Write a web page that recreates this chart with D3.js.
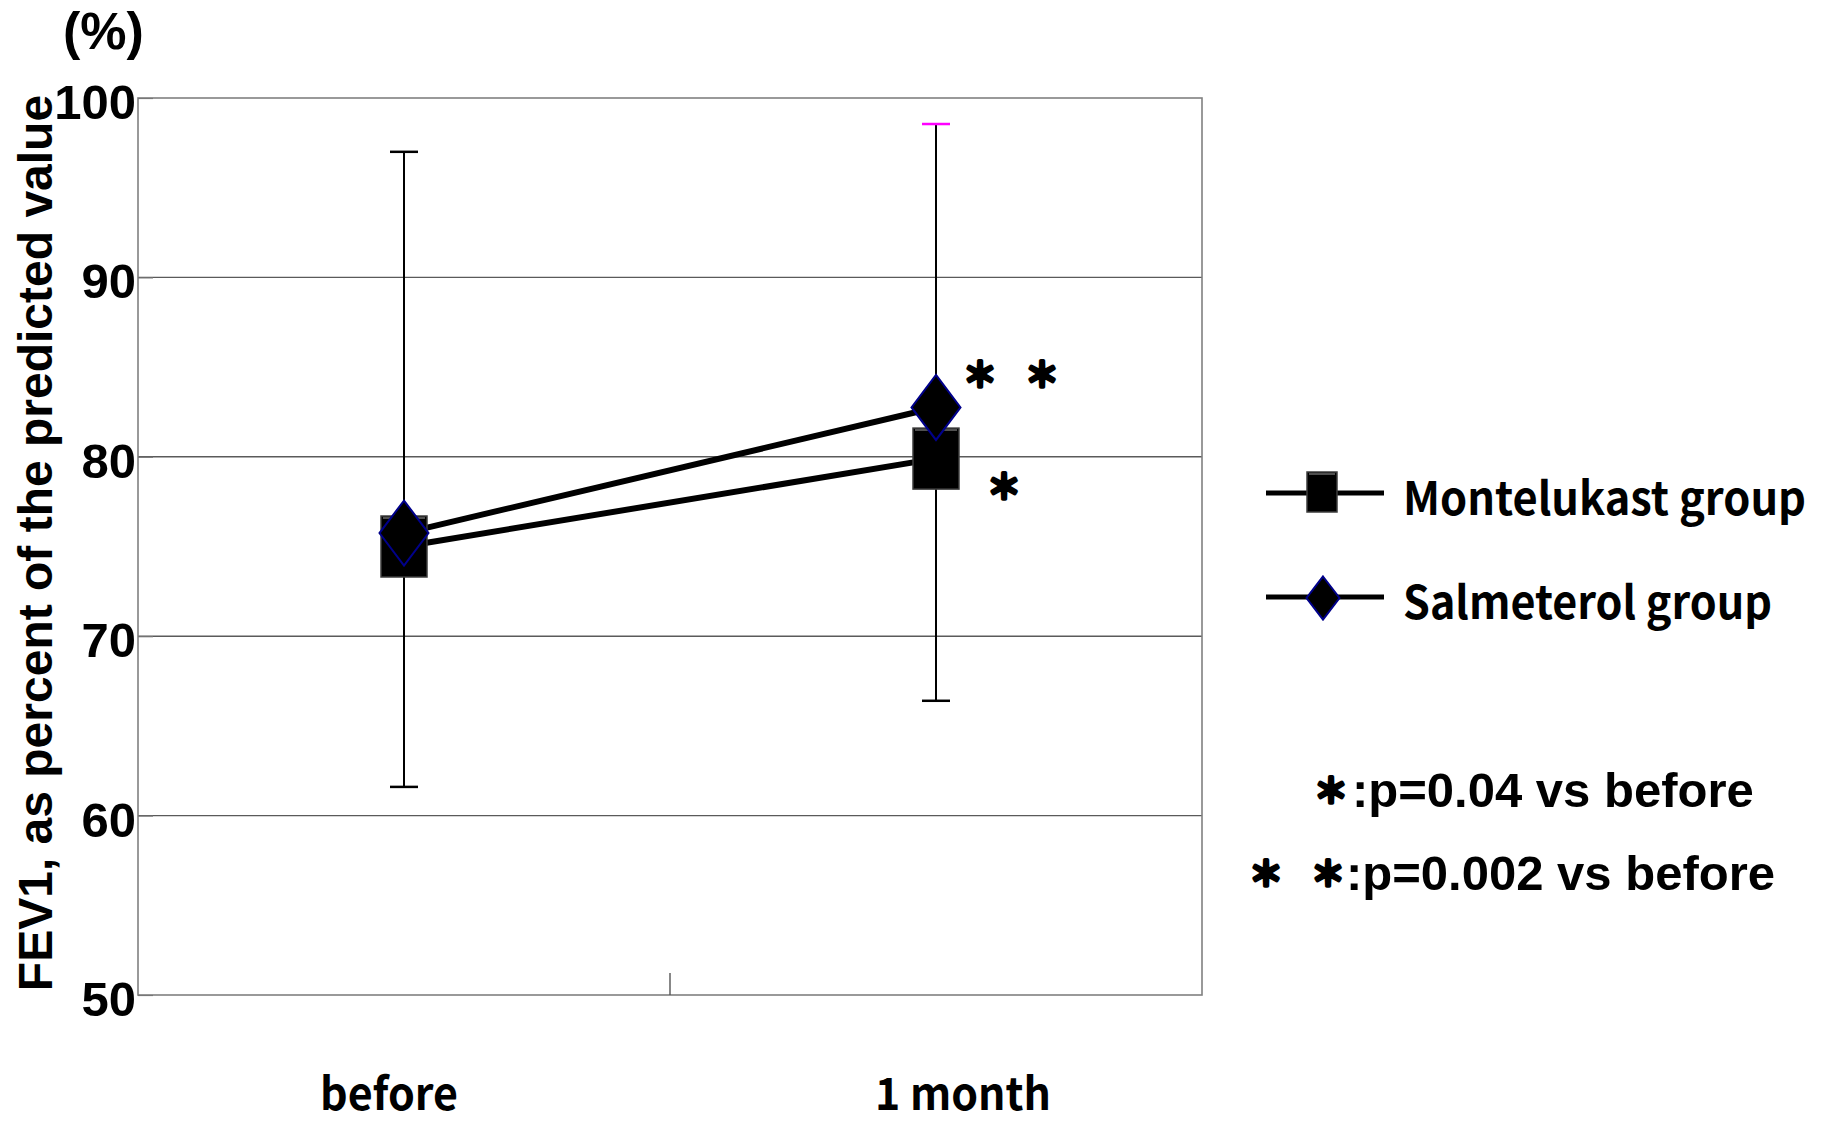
<!DOCTYPE html>
<html>
<head>
<meta charset="utf-8">
<script src="https://cdn.jsdelivr.net/npm/d3@7/dist/d3.min.js"></script>
<style>
    body { margin: 0; background: #fff; }
    svg { display: block; }
    .latin { font-family: "Liberation Sans", Arial, sans-serif; font-weight: bold; }
    .gothic { font-family: "Noto Sans CJK JP", sans-serif; font-weight: bold; }
</style>
</head>
<body>
<div id="chart"></div>
<script>
//
// FEV1 before / after 1 month, two treatment groups
//

const categories = ['before', '1 month'];
const seriesNames = ['Montelukast group', 'Salmeterol group'];
const montelukastValues = [75.0, 79.9];
const salmeterolValues = [75.75, 82.75];
const errorLow = [61.6, 66.4];
const errorHigh = [97.0, 98.55];
const yTickValues = [50, 60, 70, 80, 90, 100];
const statNotes = ['＊:p=0.04 vs before', '＊＊:p=0.002 vs before'];

const _width = 1829;
const _height = 1122;
const _plotLeft = 138;
const _plotRight = 1202;
const _plotTop = 98;
const _plotBottom = 995;

var svg = d3.select('#chart')
    .append('svg')
    .attr('width', _width)
    .attr('height', _height);

var x = d3.scalePoint()
    .domain(categories)
    .range([_plotLeft, _plotRight])
    .padding(0.5);

var y = d3.scaleLinear()
    .domain([50, 100])
    .range([_plotBottom, _plotTop]);

// grid lines
svg.append('g')
    .selectAll('line')
    .data(yTickValues.filter(function (d) { return d > 50 && d < 100; }))
    .enter()
    .append('line')
    .attr('x1', _plotLeft)
    .attr('x2', _plotRight)
    .attr('y1', function (d) { return y(d); })
    .attr('y2', function (d) { return y(d); })
    .attr('stroke', '#5a5a5a')
    .attr('stroke-width', 1.4);

// plot frame
svg.append('rect')
    .attr('x', _plotLeft)
    .attr('y', _plotTop)
    .attr('width', _plotRight - _plotLeft)
    .attr('height', _plotBottom - _plotTop)
    .attr('fill', 'none')
    .attr('stroke', '#808080')
    .attr('stroke-width', 1.6);

// y axis (short inner ticks, labels on the left)
var yAxis = d3.axisLeft(y).tickValues(yTickValues).tickSize(-15).tickPadding(4).tickFormat(d3.format('d'));
var yAxisG = svg.append('g')
    .attr('transform', 'translate(' + _plotLeft + ',0)')
    .call(yAxis);
yAxisG.select('.domain').remove();
yAxisG.selectAll('.tick line').attr('stroke', '#777').attr('stroke-width', 1.2);
yAxisG.selectAll('.tick text')
    .attr('class', 'latin')
    .attr('x', -2)
    .attr('dy', '0.42em')
    .style('font-size', '49px')
    .attr('fill', '#000');

// middle separator tick on the x axis
var step = x.step();
svg.append('line')
    .attr('x1', x(categories[0]) + step / 2)
    .attr('x2', x(categories[0]) + step / 2)
    .attr('y1', _plotBottom)
    .attr('y2', _plotBottom - 22)
    .attr('stroke', '#555')
    .attr('stroke-width', 1.4);

// x labels
var labelDx = [-15, 27];
var labelLen = [138, 176];
svg.append('g')
    .selectAll('text')
    .data(categories)
    .enter()
    .append('text')
    .attr('class', 'gothic')
    .attr('x', function (d, i) { return x(d) + labelDx[i]; })
    .attr('y', 1110)
    .attr('text-anchor', 'middle')
    .attr('textLength', function (d, i) { return labelLen[i]; })
    .attr('lengthAdjust', 'spacingAndGlyphs')
    .style('font-size', '45px')
    .text(function (d) { return d; });

// axis titles
svg.append('text')
    .attr('class', 'latin')
    .attr('x', 63)
    .attr('y', 49)
    .style('font-size', '52px')
    .text('(%)');

svg.append('text')
    .attr('class', 'latin')
    .attr('transform', 'translate(52,543) rotate(-90)')
    .attr('text-anchor', 'middle')
    .style('font-size', '48px')
    .text('FEV1, as percent of the predicted value');

// error bars
var capColors = ['#000', '#ff00ff'];
var errG = svg.append('g');
categories.forEach(function (c, i) {
    var cx = x(c);
    errG.append('line')
        .attr('x1', cx).attr('x2', cx)
        .attr('y1', y(errorLow[i])).attr('y2', y(errorHigh[i]))
        .attr('stroke', '#000').attr('stroke-width', 2);
    errG.append('line')
        .attr('x1', cx - 14).attr('x2', cx + 14)
        .attr('y1', y(errorLow[i])).attr('y2', y(errorLow[i]))
        .attr('stroke', '#000').attr('stroke-width', 2.5);
    errG.append('line')
        .attr('x1', cx - 14).attr('x2', cx + 14)
        .attr('y1', y(errorHigh[i])).attr('y2', y(errorHigh[i]))
        .attr('stroke', capColors[i]).attr('stroke-width', 2.5);
});

// series lines
var line = d3.line()
    .x(function (d, i) { return x(categories[i]); })
    .y(function (d) { return y(d); });

[montelukastValues, salmeterolValues].forEach(function (vals) {
    svg.append('path')
        .datum(vals)
        .attr('d', line)
        .attr('fill', 'none')
        .attr('stroke', '#000')
        .attr('stroke-width', 6);
});

function drawSquare(g, cx, cy, w, h) {
    g.append('rect')
        .attr('x', cx - w / 2)
        .attr('y', cy - h / 2)
        .attr('width', w)
        .attr('height', h)
        .attr('fill', '#000')
        .attr('stroke', '#3c3c3c')
        .attr('stroke-width', 1.5);
    g.append('line')
        .attr('x1', cx - w / 2 + 2).attr('x2', cx + w / 2 - 2)
        .attr('y1', cy - h / 2 + 2).attr('y2', cy - h / 2 + 2)
        .attr('stroke', '#6a6a6a')
        .attr('stroke-width', 1.5);
}

function drawDiamond(g, cx, cy, w, h) {
    g.append('path')
        .attr('d', 'M' + cx + ',' + (cy - h / 2) + 'L' + (cx + w / 2) + ',' + cy +
            'L' + cx + ',' + (cy + h / 2) + 'L' + (cx - w / 2) + ',' + cy + 'Z')
        .attr('fill', '#000')
        .attr('stroke', '#00008b')
        .attr('stroke-width', 2);
}

// markers
var markG = svg.append('g');
montelukastValues.forEach(function (v, i) {
    drawSquare(markG, x(categories[i]), y(v), 46, 61);
});
salmeterolValues.forEach(function (v, i) {
    drawDiamond(markG, x(categories[i]), y(v), 49, 65);
});

// significance marks (heavy asterisk drawn as text)
function drawStar(cx, cy) {
    svg.append('text')
        .attr('class', 'gothic')
        .attr('x', cx)
        .attr('y', cy)
        .attr('text-anchor', 'middle')
        .attr('dominant-baseline', 'central')
        .attr('stroke', '#000')
        .attr('stroke-width', 3.5)
        .attr('stroke-linejoin', 'round')
        .style('font-size', '34px')
        .text('＊');
}
drawStar(980, 372);
drawStar(1042, 372);
drawStar(1004, 484);

// legend
var legendY = [493, 597];
var legendLen = [403, 369];
seriesNames.forEach(function (name, i) {
    svg.append('line')
        .attr('x1', 1266).attr('x2', 1384)
        .attr('y1', legendY[i]).attr('y2', legendY[i])
        .attr('stroke', '#000').attr('stroke-width', 5);
    if (i == 0)
        drawSquare(svg, 1322, legendY[i] - 1, 30, 40);
    else
        drawDiamond(svg, 1323, legendY[i] + 1, 33, 43);
    svg.append('text')
        .attr('class', 'gothic')
        .attr('x', 1403)
        .attr('y', legendY[i] + 22)
        .attr('textLength', legendLen[i])
        .attr('lengthAdjust', 'spacingAndGlyphs')
        .style('font-size', '46px')
        .text(name);
});

// p-value notes
var noteStarX = [[1331], [1266, 1328]];
var noteTextX = [1352, 1346];
var noteY = [807, 890];
statNotes.forEach(function (note, i) {
    var rest = note.replace(/＊/g, '');
    noteStarX[i].forEach(function (sx) {
        drawStar(sx, noteY[i] - 19);
    });
    svg.append('text')
        .attr('class', 'latin')
        .attr('x', noteTextX[i])
        .attr('y', noteY[i])
        .style('font-size', '49px')
        .text(rest);
});
</script>
</body>
</html>
